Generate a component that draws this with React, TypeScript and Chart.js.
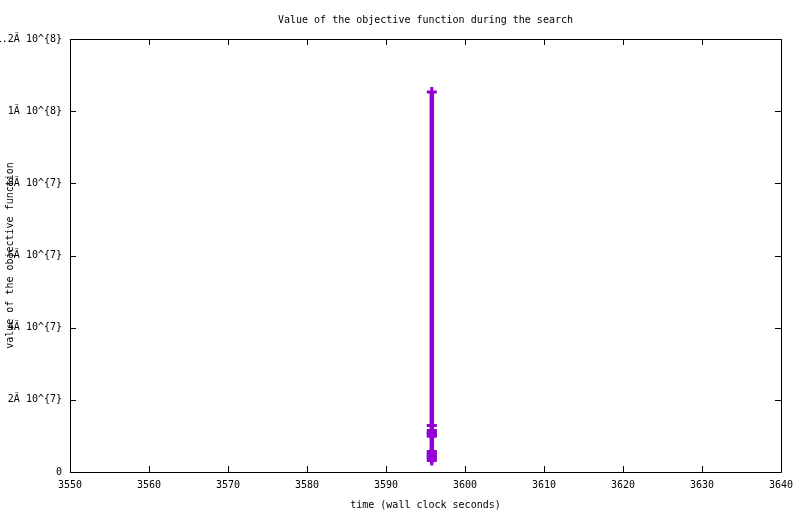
import React, { useEffect, useRef } from 'react';
import { Chart, registerables } from 'chart.js';

Chart.register(...registerables);

// time (wall clock seconds) of each recorded point
const timeSeconds = [
  3595.8, 3595.8, 3595.8, 3595.8, 3595.8, 3595.8, 3595.8,
  3595.8, 3595.8, 3595.8, 3595.8, 3595.8, 3595.8, 3595.8,
];
// value of the objective function at each point
const objectiveValues = [
  1.053e8, 1.289e7, 1.15e7, 1.11e7, 1.07e7, 1.03e7, 9.9e6,
  5.7e6, 5.3e6, 4.9e6, 4.5e6, 4.1e6, 3.7e6, 3.2e6,
];

const xTickValues = [3550, 3560, 3570, 3580, 3590, 3600, 3610, 3620, 3630, 3640];
const yTickValues = [0, 2e7, 4e7, 6e7, 8e7, 1e8, 1.2e8];
const yTickLabels = ['0', '2Ă 10^{7}', '4Ă 10^{7}', '6Ă 10^{7}', '8Ă 10^{7}', '1Ă 10^{8}', '1.2Ă 10^{8}'];

const titleText = 'Value of the objective function during the search';
const xTitleText = 'time (wall clock seconds)';
const yTitleText = 'value of the objective function';

const FONT = { family: '"DejaVu Sans Mono", monospace', size: 10, weight: 'normal' as const };
const LINE_COLOR = '#9400d3';

const boxPlugin = {
  id: 'gnuplotBox',
  afterDraw(chart: any) {
    const { ctx, chartArea } = chart;
    const { left, right, top, bottom } = chartArea;
    ctx.save();
    ctx.strokeStyle = '#000';
    ctx.lineWidth = 1;
    ctx.beginPath();
    ctx.rect(Math.round(left) + 0.5, Math.round(top) + 0.5, Math.round(right - left), Math.round(bottom - top));
    ctx.stroke();
    const xs = chart.scales.x;
    const ys = chart.scales.y;
    const tl = 6;
    ctx.beginPath();
    xTickValues.forEach((v) => {
      const px = Math.round(xs.getPixelForValue(v)) + 0.5;
      ctx.moveTo(px, bottom);
      ctx.lineTo(px, bottom - tl);
      ctx.moveTo(px, top);
      ctx.lineTo(px, top + tl);
    });
    yTickValues.forEach((v) => {
      const py = Math.round(ys.getPixelForValue(v)) + 0.5;
      ctx.moveTo(left, py);
      ctx.lineTo(left + tl, py);
      ctx.moveTo(right, py);
      ctx.lineTo(right - tl, py);
    });
    ctx.stroke();
    ctx.restore();
  },
};

export default function App() {
  const ref = useRef<HTMLCanvasElement | null>(null);

  useEffect(() => {
    if (!ref.current) return;
    const data = timeSeconds.map((t, i) => ({ x: t, y: objectiveValues[i] }));
    const chart = new Chart(ref.current, {
      type: 'scatter',
      data: {
        datasets: [
          {
            data,
            showLine: true,
            borderColor: LINE_COLOR,
            backgroundColor: LINE_COLOR,
            borderWidth: 4.5,
            pointStyle: 'cross',
            pointRadius: 5,
            pointBorderWidth: 3,
            pointBorderColor: LINE_COLOR,
          },
        ],
      },
      options: {
        animation: false,
        responsive: false,
        devicePixelRatio: 1,
        layout: { padding: { left: 0, right: 19, top: 0, bottom: 0 } },
        plugins: {
          legend: { display: false },
          tooltip: { enabled: false },
          title: {
            display: true,
            text: titleText,
            color: '#000',
            font: FONT,
            fullSize: false,
            padding: { top: 14, bottom: 13 },
          },
        },
        scales: {
          x: {
            type: 'linear',
            min: 3550,
            max: 3640,
            grid: { display: false, drawTicks: false, tickLength: 0 },
            border: { display: false },
            afterBuildTicks: (s: any) => {
              s.ticks = xTickValues.map((v) => ({ value: v }));
            },
            afterFit: (s: any) => {
              s.height = 42;
            },
            ticks: {
              color: '#000',
              font: FONT,
              padding: 7,
              maxRotation: 0,
              autoSkip: false,
              callback: (v: any) => String(v),
            },
            title: {
              display: true,
              text: xTitleText,
              color: '#000',
              font: FONT,
              padding: { top: 0, bottom: 3 },
            },
          },
          y: {
            type: 'linear',
            min: 0,
            max: 1.2e8,
            grid: { display: false, drawTicks: false, tickLength: 0 },
            border: { display: false },
            afterBuildTicks: (s: any) => {
              s.ticks = yTickValues.map((v) => ({ value: v }));
            },
            afterFit: (s: any) => {
              s.width = 70;
            },
            ticks: {
              color: '#000',
              font: FONT,
              padding: 8,
              autoSkip: false,
              callback: (v: any) => {
                const i = yTickValues.indexOf(Number(v));
                return i >= 0 ? yTickLabels[i] : '';
              },
            },
            title: {
              display: true,
              text: yTitleText,
              color: '#000',
              font: FONT,
              padding: { top: 4, bottom: 0 },
            },
          },
        },
      },
      plugins: [boxPlugin],
    });
    return () => chart.destroy();
  }, []);

  return (
    <canvas
      ref={ref}
      width={800}
      height={514}
      style={{ position: 'absolute', left: 0, top: 0, width: 800, height: 514, background: '#fff' }}
    />
  );
}
